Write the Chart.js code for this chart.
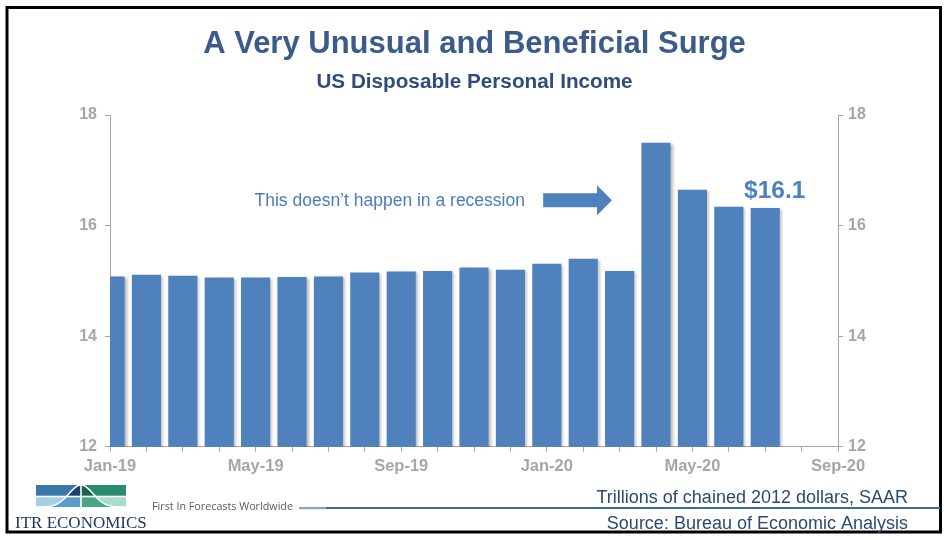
<!DOCTYPE html>
<html>
<head>
<meta charset="utf-8">
<title>US Disposable Personal Income</title>
<style>
    html, body { margin: 0; padding: 0; background: #ffffff; }
    #wrap { position: relative; width: 947px; height: 540px; }
</style>
<script src="https://cdn.jsdelivr.net/npm/chart.js@4.4.1/dist/chart.umd.min.js"></script>
</head>
<body>
<div id="wrap"><canvas id="incomeChart" width="947" height="540"></canvas></div>
<script>
// Monthly data, Jan-19 .. Jul-20 (trillions of chained 2012 dollars, SAAR)
const months = ['Jan-19', 'Feb-19', 'Mar-19', 'Apr-19', 'May-19', 'Jun-19', 'Jul-19', 'Aug-19',
    'Sep-19', 'Oct-19', 'Nov-19', 'Dec-19', 'Jan-20', 'Feb-20', 'Mar-20', 'Apr-20',
    'May-20', 'Jun-20', 'Jul-20'];
const income = [15.08, 15.11, 15.09, 15.06, 15.06, 15.07, 15.08, 15.15,
    15.17, 15.18, 15.24, 15.20, 15.31, 15.40, 15.18, 17.50,
    16.65, 16.34, 16.32];
const axisLabels = ['Jan-19', 'May-19', 'Sep-19', 'Jan-20', 'May-20', 'Sep-20'];
const yTicks = [12, 14, 16, 18];

const BLUE = '#4F81BD';
const GREY = '#A6A6A6';
const labelEvery = 4;

// annotation anchors in axis units (month index, value)
const recessionNote = { text: 'This doesn\u2019t happen in a recession', x: 11.40, y: 16.46 };
const arrowNote = { from: 11.90, headBase: 13.38, to: 13.79, y: 16.46 };
const lastValueNote = { text: '$16.1', x: 17.42, y: 16.49 };

const tickFont = { family: 'Liberation Sans, Arial, sans-serif', size: 16, weight: 'bold' };

// soft drop shadow under the bars
const barShadow = {
    id: 'barShadow',
    beforeDatasetsDraw(chart) {
        const c = chart.ctx;
        c.save();
        c.shadowColor = 'rgba(0, 0, 0, 0.30)';
        c.shadowBlur = 3;
        c.shadowOffsetX = 2;
        c.shadowOffsetY = 1;
    },
    afterDatasetsDraw(chart) {
        chart.ctx.restore();
    }
};

function drawLogo(c) {
    const L = 36, R = 126, mid = 81, T = 485, M = 496.5, B = 507;
    const bell = x => B - 22 * Math.exp(-Math.pow((x - mid) / 12, 2) / 2);
    // outside the curve
    c.fillStyle = '#3B78AA'; c.fillRect(L, T, mid - L, M - T);
    c.fillStyle = '#2A8C6C'; c.fillRect(mid, T, R - mid, M - T);
    c.fillStyle = '#A3CFE8'; c.fillRect(L, M, mid - L, B - M);
    c.fillStyle = '#A9DCCB'; c.fillRect(mid, M, R - mid, B - M);
    // under the curve
    c.save();
    c.beginPath();
    c.moveTo(L, B);
    for (let x = L; x <= R; x += 1) c.lineTo(x, bell(x));
    c.lineTo(R, B);
    c.closePath();
    c.clip();
    c.fillStyle = '#1F3F6E'; c.fillRect(L, T, mid - L, M - T);
    c.fillStyle = '#1A634A'; c.fillRect(mid, T, R - mid, M - T);
    c.fillStyle = '#5A9BCF'; c.fillRect(L, M, mid - L, B - M);
    c.fillStyle = '#48A886'; c.fillRect(mid, M, R - mid, B - M);
    c.restore();
    // white curve and gaps
    c.strokeStyle = '#ffffff';
    c.lineWidth = 1.5;
    c.beginPath();
    for (let x = L; x <= R; x += 1) {
        if (x === L) c.moveTo(x, bell(x)); else c.lineTo(x, bell(x));
    }
    c.stroke();
    c.fillStyle = '#ffffff';
    c.fillRect(mid - 0.8, T, 1.6, B - T);
    c.fillRect(L, M - 0.8, R - L, 1.6);

    c.fillStyle = '#1F3760';
    c.font = '17px "Liberation Serif", "Times New Roman", serif';
    c.textAlign = 'left';
    c.textBaseline = 'alphabetic';
    c.fillText('ITR ECONOMICS', 15, 528);
}

const decorations = {
    id: 'decorations',
    afterDraw(chart) {
        const c = chart.ctx;
        const xs = chart.scales.x, ys = chart.scales.y;
        c.save();

        // frame
        c.strokeStyle = '#000000';
        c.lineWidth = 3;
        c.strokeRect(7, 7.5, 933.5, 524.5);

        // titles
        c.textAlign = 'center';
        c.textBaseline = 'alphabetic';
        c.fillStyle = '#3B5B8C';
        c.font = 'bold 31px "Liberation Sans", Arial, sans-serif';
        c.fillText('A Very Unusual and Beneficial Surge', 474.5, 53);
        c.fillStyle = '#2F4C7C';
        c.font = 'bold 20.7px "Liberation Sans", Arial, sans-serif';
        c.fillText('US Disposable Personal Income', 474.5, 87.5);

        // annotation text
        c.fillStyle = '#4A7DBA';
        c.textAlign = 'right';
        c.font = '17.5px "Liberation Sans", Arial, sans-serif';
        c.fillText(recessionNote.text, xs.getPixelForValue(recessionNote.x), ys.getPixelForValue(recessionNote.y) + 6);

        // arrow
        const ay = ys.getPixelForValue(arrowNote.y);
        const x0 = xs.getPixelForValue(arrowNote.from);
        const xb = xs.getPixelForValue(arrowNote.headBase);
        const x1 = xs.getPixelForValue(arrowNote.to);
        c.fillStyle = BLUE;
        c.beginPath();
        c.moveTo(x0, ay - 7);
        c.lineTo(xb, ay - 7);
        c.lineTo(xb, ay - 15);
        c.lineTo(x1, ay);
        c.lineTo(xb, ay + 15);
        c.lineTo(xb, ay + 7);
        c.lineTo(x0, ay + 7);
        c.closePath();
        c.fill();

        // latest value
        c.textAlign = 'left';
        c.fillStyle = BLUE;
        c.font = 'bold 24.5px "Liberation Sans", Arial, sans-serif';
        c.fillText(lastValueNote.text, xs.getPixelForValue(lastValueNote.x), ys.getPixelForValue(lastValueNote.y));

        // footer
        drawLogo(c);
        c.fillStyle = '#5A5A5A';
        c.textAlign = 'left';
        c.font = '10px "Open Sans", "DejaVu Sans", sans-serif';
        const tag = 'First In Forecasts Worldwide';
        const tw = c.measureText(tag).width;
        c.font = (10 * 141 / tw).toFixed(2) + 'px "Open Sans", "DejaVu Sans", sans-serif';
        c.fillText(tag, 152, 510);

        c.fillStyle = '#7FA7C9';
        c.fillRect(299, 507, 27, 2.2);
        c.fillStyle = '#3D6E92';
        c.fillRect(326, 507, 614, 2);

        c.fillStyle = '#2B4A73';
        c.textAlign = 'right';
        c.font = '18px "Liberation Sans", Arial, sans-serif';
        c.fillText('Trillions of chained 2012 dollars, SAAR', 908, 503);
        c.fillText('Source: Bureau of Economic Analysis', 908, 529);

        c.restore();
    }
};

const axisCommon = {
    min: 12,
    max: 18,
    beginAtZero: false,
    afterBuildTicks: s => { s.ticks = yTicks.map(v => ({ value: v })); },
    grid: { drawOnChartArea: false, tickLength: 5, color: GREY },
    border: { color: GREY, width: 1 }
};

new Chart(document.getElementById('incomeChart'), {
    type: 'bar',
    data: {
        labels: months,
        datasets: [{
            label: 'US Disposable Personal Income',
            data: income.map((v, i) => ({ x: i, y: v })),
            backgroundColor: BLUE,
            borderWidth: 0,
            categoryPercentage: 0.8,
            barPercentage: 1.0,
            clip: 0
        }]
    },
    options: {
        responsive: false,
        animation: false,
        layout: { padding: { top: 115, left: 0, right: 0, bottom: 0 } },
        plugins: {
            legend: { display: false },
            title: { display: false },
            tooltip: { enabled: false }
        },
        scales: {
            x: {
                type: 'linear',
                min: 0,
                max: months.length + 1,
                offset: false,
                afterBuildTicks: s => {
                    const t = [];
                    for (let v = 0; v <= months.length + 1; v++) t.push({ value: v });
                    s.ticks = t;
                },
                ticks: {
                    autoSkip: false,
                    maxRotation: 0,
                    color: GREY,
                    font: { ...tickFont, size: 16.5 },
                    padding: 5,
                    callback: v => (v % labelEvery === 0 ? axisLabels[v / labelEvery] : '')
                },
                grid: { drawOnChartArea: false, offset: false, tickLength: 5, color: GREY },
                border: { color: GREY, width: 1 },
                afterFit: s => { s.height = 93.3; }
            },
            y: {
                ...axisCommon,
                position: 'left',
                ticks: { color: GREY, font: tickFont, padding: 8 },
                afterFit: s => { s.width = 110; }
            },
            y2: {
                ...axisCommon,
                position: 'right',
                ticks: { color: GREY, font: tickFont, padding: 5 },
                afterFit: s => { s.width = 109; }
            }
        }
    },
    plugins: [barShadow, decorations]
});
</script>
</body>
</html>
